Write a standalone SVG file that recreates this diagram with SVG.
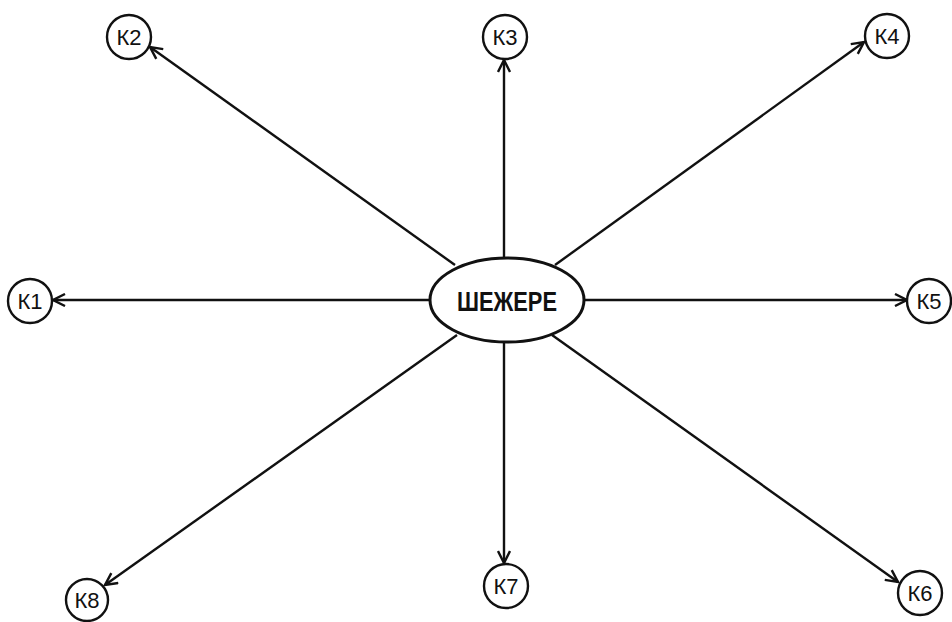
<svg xmlns="http://www.w3.org/2000/svg" width="952" height="622" viewBox="0 0 952 622">
<defs>
<marker id="arr" markerWidth="16" markerHeight="14" refX="13" refY="7" orient="auto" markerUnits="userSpaceOnUse">
<path d="M1,1 L13,7 L1,13" fill="none" stroke="#111" stroke-width="2.4"/>
</marker>
</defs>
<style>
.c{fill:#fff;stroke:#111;stroke-width:2.4}
.t{font-family:"Liberation Sans",Arial,sans-serif;font-size:22px;fill:#111;text-anchor:middle}
.e{fill:#fff;stroke:#111;stroke-width:3}
.et{font-family:"Liberation Sans",Arial,sans-serif;font-size:27px;font-weight:bold;fill:#111;text-anchor:middle}
.l{stroke:#111;stroke-width:2.4;fill:none;marker-end:url(#arr)}
</style>
<rect width="952" height="622" fill="#fff"/>
<g id="connectors">
<line class="l" x1="455" y1="265" x2="150" y2="47"/>
<line class="l" x1="504" y1="257" x2="504" y2="60"/>
<line class="l" x1="555" y1="265" x2="864" y2="42"/>
<line class="l" x1="430" y1="300" x2="53" y2="300"/>
<line class="l" x1="584" y1="300" x2="907" y2="300"/>
<line class="l" x1="457" y1="335" x2="105" y2="585"/>
<line class="l" x1="504" y1="343" x2="504" y2="563"/>
<line class="l" x1="552" y1="335" x2="898" y2="582"/>
</g>
<g id="center">
<ellipse class="e" cx="507" cy="300" rx="77" ry="42"/>
<text class="et" x="507" y="311" textLength="100" lengthAdjust="spacingAndGlyphs">ШЕЖЕРЕ</text>
</g>
<g id="k1"><circle class="c" cx="30" cy="301" r="22"/><text class="t" x="30" y="309">К1</text></g>
<g id="k2"><circle class="c" cx="129" cy="37" r="22"/><text class="t" x="129" y="45">К2</text></g>
<g id="k3"><circle class="c" cx="505" cy="37" r="22"/><text class="t" x="505" y="45">К3</text></g>
<g id="k4"><circle class="c" cx="887" cy="36" r="22"/><text class="t" x="887" y="44">К4</text></g>
<g id="k5"><circle class="c" cx="929" cy="301" r="22"/><text class="t" x="929" y="309">К5</text></g>
<g id="k6"><circle class="c" cx="920" cy="593" r="22"/><text class="t" x="920" y="601">К6</text></g>
<g id="k7"><circle class="c" cx="506" cy="586" r="22"/><text class="t" x="506" y="594">К7</text></g>
<g id="k8"><circle class="c" cx="87" cy="600" r="21"/><text class="t" x="87" y="608">К8</text></g>
</svg>
